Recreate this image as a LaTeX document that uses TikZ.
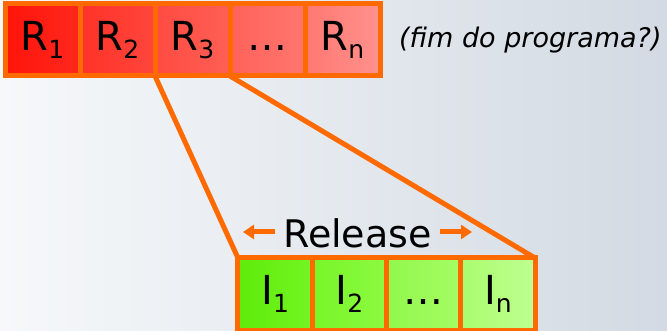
\documentclass[tikz,border=0pt]{standalone}
\usepackage{fontspec}
\setmainfont{DejaVu Sans}
\usetikzlibrary{arrows.meta}
\definecolor{edge}{HTML}{FF6A00}
\definecolor{bgl}{HTML}{F6F8FA}
\definecolor{bgr}{HTML}{D3DAE3}
\newcommand{\lbl}[2]{#1\raisebox{-0.2em}{\fontsize{25}{25}\selectfont #2}}
\newcommand{\dotslbl}{\vphantom{\lbl{R}{1}}…}
\tikzset{
  cell/.style={draw=edge, line width=5pt, minimum width=75pt, minimum height=72pt,
    inner sep=0pt, outer sep=0pt, font=\fontsize{40}{44}\selectfont},
  icell/.style={cell, minimum width=74.25pt},
  link/.style={draw=edge, line width=5pt},
  arr/.style={draw=edge, line width=5pt, -{Triangle[length=11pt,width=14pt]}}
}
\begin{document}
\begin{tikzpicture}[x=1pt,y=-1pt]
\useasboundingbox (0,0) rectangle (667,331);
\fill[left color=bgl, right color=bgr] (0,0) rectangle (667,331);
% top row
\node[cell, left color={rgb,255:red,255;green,20;blue,10}, right color={rgb,255:red,255;green,40;blue,30}] (r1) at (42.5,40) {\lbl{R}{1}};
\node[cell, left color={rgb,255:red,255;green,50;blue,40}, right color={rgb,255:red,255;green,70;blue,60}] (r2) at (117.5,40) {\lbl{R}{2}};
\node[cell, left color={rgb,255:red,255;green,75;blue,65}, right color={rgb,255:red,255;green,95;blue,85}] (r3) at (192.5,40) {\lbl{R}{3}};
\node[cell, left color={rgb,255:red,255;green,98;blue,90}, right color={rgb,255:red,255;green,118;blue,110}] (r4) at (267.5,40) {\dotslbl};
\node[cell, left color={rgb,255:red,255;green,120;blue,115}, right color={rgb,255:red,255;green,145;blue,140}] (rn) at (342.5,40) {\lbl{R}{n}};
\node[anchor=west, font=\itshape\fontsize{27}{30}\selectfont, inner sep=0pt] (q) at (399,40) {(fim do programa?)};
% bottom row
\node[icell, left color={rgb,255:red,95;green,235;blue,10}, right color={rgb,255:red,115;green,245;blue,35}] (i1) at (275.1,294) {\lbl{I}{1}};
\node[icell, left color={rgb,255:red,120;green,245;blue,40}, right color={rgb,255:red,140;green,250;blue,65}] (i2) at (349.4,294) {\lbl{I}{2}};
\node[icell, left color={rgb,255:red,145;green,248;blue,75}, right color={rgb,255:red,165;green,252;blue,100}] (i3) at (423.6,294) {\dotslbl};
\node[icell, left color={rgb,255:red,170;green,252;blue,110}, right color={rgb,255:red,190;green,255;blue,145}] (in) at (497.9,294) {\lbl{I}{n}};
% connectors
\draw[link] (r3.south west) -- (i1.north west);
\draw[link] (r3.south east) -- (in.north east);
% release
\node[font=\fontsize{38}{40}\selectfont, inner sep=0pt] (rel) at (357.5,233) {Release};
\coordinate (la) at (243,232);
\coordinate (ra) at (472,232);
\draw[arr] ([xshift=-8pt,yshift=1pt]rel.west) -- (la);
\draw[arr] ([xshift=8pt,yshift=1pt]rel.east) -- (ra);
\end{tikzpicture}
\end{document}
